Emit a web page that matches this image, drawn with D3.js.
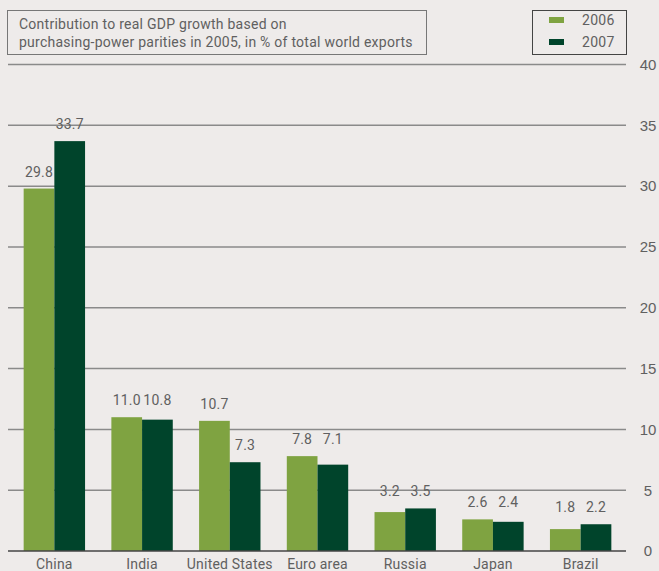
<!DOCTYPE html>
<html>
<head>
<meta charset="utf-8">
<script src="https://cdn.jsdelivr.net/npm/d3@7"></script>
<style>
  html, body { margin: 0; padding: 0; background: #eeebea; }
  svg { display: block; font-family: 'Roboto', 'Liberation Sans Narrow', sans-serif; }
</style>
</head>
<body>
<div id="chart"></div>
<script>
(function () {
  const width = 659;
  const height = 571;

  const categories = ['China', 'India', 'United States', 'Euro area', 'Russia', 'Japan', 'Brazil'];
  const values2006 = [29.8, 11.0, 10.7, 7.8, 3.2, 2.6, 1.8];
  const values2007 = [33.7, 10.8, 7.3, 7.1, 3.5, 2.4, 2.2];
  const seriesNames = ['2006', '2007'];
  const yTicks = [0, 5, 10, 15, 20, 25, 30, 35, 40];
  const titleLines = [
    'Contribution to real GDP growth based on',
    'purchasing-power parities in 2005, in % of total world exports'
  ];

  const colors = { '2006': '#7fa341', '2007': '#00442b' };
  const textColor = '#606060';

  const svg = d3
    .select('#chart')
    .append('svg')
    .attr('width', width)
    .attr('height', height)
    .attr('viewBox', `0 0 ${width} ${height}`);

  svg.append('rect').attr('width', width).attr('height', height).attr('fill', '#eeebea');

  const x = d3
    .scaleBand()
    .domain(categories)
    .range([10.5, 624.5])
    .paddingInner(0.3)
    .paddingOuter(0.15);

  const xInner = d3.scaleBand().domain(seriesNames).range([0, x.bandwidth()]);

  const y = d3.scaleLinear().domain([0, 40]).range([551, 64.5]);

  // gridlines
  svg
    .append('g')
    .selectAll('line')
    .data(yTicks.filter((d) => d > 0))
    .join('line')
    .attr('x1', 8)
    .attr('x2', 626)
    .attr('y1', (d) => y(d))
    .attr('y2', (d) => y(d))
    .attr('stroke', '#8a8a8a')
    .attr('stroke-width', 1.5);

  // right axis labels
  const yAxis = d3.axisRight(y).tickValues(yTicks).tickSize(0).tickPadding(0);
  svg
    .append('g')
    .attr('transform', 'translate(648,0)')
    .call(yAxis)
    .call((g) => g.select('.domain').remove())
    .call((g) =>
      g
        .selectAll('.tick text')
        .attr('text-anchor', 'middle')
        .attr('font-size', 15)
        .attr('font-family', 'inherit')
        .attr('fill', textColor)
    );

  const rows = categories.map((c, i) => ({ category: c, '2006': values2006[i], '2007': values2007[i] }));

  const groups = svg
    .append('g')
    .selectAll('g')
    .data(rows)
    .join('g')
    .attr('transform', (d) => `translate(${x(d.category)},0)`);

  groups
    .selectAll('rect')
    .data((d) => seriesNames.map((s) => ({ key: s, value: d[s] })))
    .join('rect')
    .attr('x', (d) => xInner(d.key))
    .attr('width', xInner.bandwidth())
    .attr('y', (d) => y(d.value))
    .attr('height', (d) => y(0) - y(d.value))
    .attr('fill', (d) => colors[d.key]);

  // labels share a line when the pair is close, else sit over each bar
  groups
    .selectAll('text.val')
    .data((d) => {
      const top = Math.max(d['2006'], d['2007']);
      const close = Math.abs(d['2006'] - d['2007']) < 1.5;
      return seriesNames.map((s) => ({ key: s, value: d[s], at: close ? top : d[s] }));
    })
    .join('text')
    .attr('class', 'val')
    .attr('x', (d) => xInner(d.key) + xInner.bandwidth() / 2)
    .attr('y', (d) => y(d.at) - 12)
    .attr('text-anchor', 'middle')
    .attr('font-size', 14)
    .attr('letter-spacing', 0.2)
    .attr('fill', textColor)
    .text((d) => d.value.toFixed(1));

  // baseline
  svg
    .append('line')
    .attr('x1', 8)
    .attr('x2', 626)
    .attr('y1', y(0))
    .attr('y2', y(0))
    .attr('stroke', '#444')
    .attr('stroke-width', 1.5);

  // category labels
  svg
    .append('g')
    .selectAll('text')
    .data(categories)
    .join('text')
    .attr('x', (d) => x(d) + x.bandwidth() / 2)
    .attr('y', 569)
    .attr('text-anchor', 'middle')
    .attr('font-size', 14)
    .attr('letter-spacing', 0.2)
    .attr('fill', textColor)
    .text((d) => d);

  // title box
  svg
    .append('rect')
    .attr('x', 7.5)
    .attr('y', 10.5)
    .attr('width', 419)
    .attr('height', 44)
    .attr('fill', 'none')
    .attr('stroke', '#777')
    .attr('stroke-width', 1);

  svg
    .append('g')
    .selectAll('text')
    .data(titleLines)
    .join('text')
    .attr('x', 19)
    .attr('y', (d, i) => 29 + i * 18)
    .attr('font-size', 14)
    .attr('letter-spacing', 0.25)
    .attr('fill', textColor)
    .text((d) => d);

  // legend
  svg
    .append('rect')
    .attr('x', 532.5)
    .attr('y', 10.5)
    .attr('width', 94)
    .attr('height', 44)
    .attr('fill', 'none')
    .attr('stroke', '#444')
    .attr('stroke-width', 1);

  const legend = svg
    .append('g')
    .selectAll('g')
    .data(seriesNames)
    .join('g')
    .attr('transform', (d, i) => `translate(549,${20 + i * 22})`);

  legend
    .append('rect')
    .attr('y', -3)
    .attr('width', 15)
    .attr('height', 6)
    .attr('fill', (d) => colors[d]);

  legend
    .append('text')
    .attr('x', 33)
    .attr('y', 5)
    .attr('font-size', 14)
    .attr('letter-spacing', 0.3)
    .attr('fill', textColor)
    .text((d) => d);
})();
</script>
</body>
</html>
